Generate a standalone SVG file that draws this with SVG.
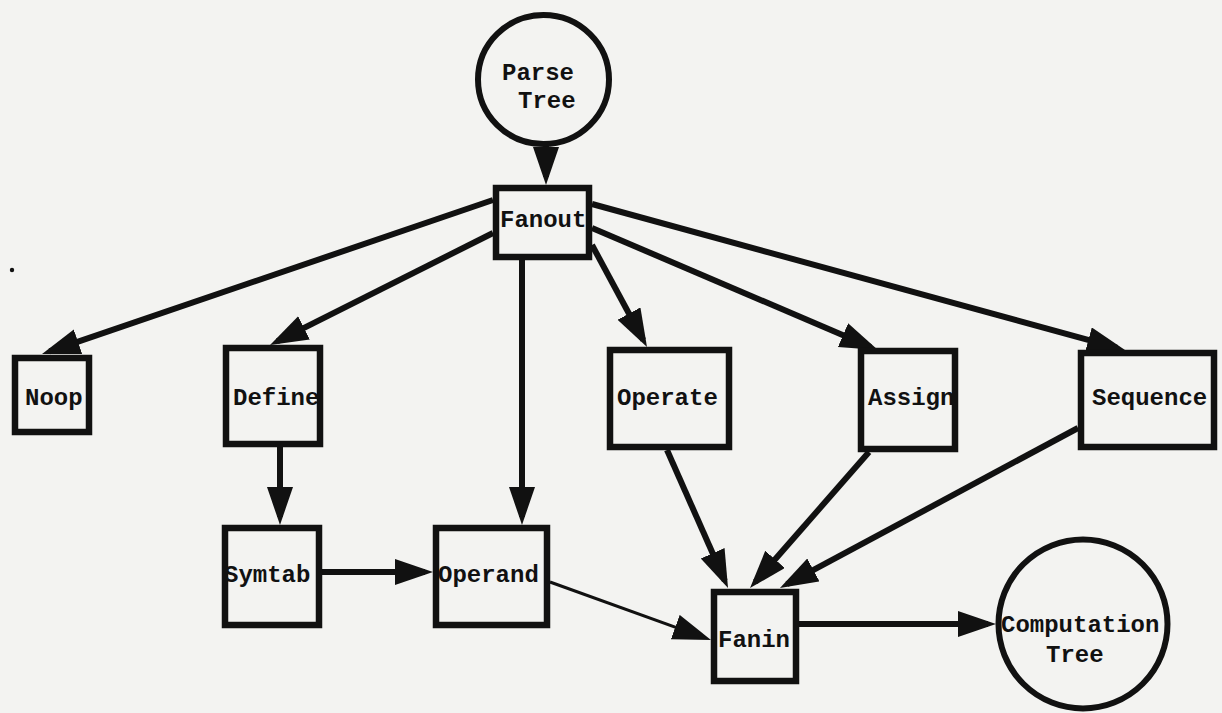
<svg xmlns="http://www.w3.org/2000/svg" width="1222" height="713" viewBox="0 0 1222 713">
<defs>
<style>
.bg{fill:#f3f3f1}
.box{fill:#f3f3f1;stroke:#111;stroke-width:6.5;stroke-linejoin:miter}
.circ{fill:#f3f3f1;stroke:#111;stroke-width:6}
.lbl{font-family:"Liberation Mono","Courier New",monospace;font-weight:bold;font-size:24px;fill:#111}
.edge{fill:none;stroke:#111;stroke-width:6;marker-end:url(#ah)}
.thin{fill:none;stroke:#111;stroke-width:3;marker-end:url(#ah)}
</style>
<marker id="ah" markerUnits="userSpaceOnUse" markerWidth="40" markerHeight="28" refX="30" refY="13" orient="auto">
<path d="M0,0 L38,13 L0,26 Z" fill="#111"/>
</marker>
</defs>
<rect class="bg" x="0" y="0" width="1222" height="713"/>
<circle cx="12" cy="270" r="2.2" fill="#111"/>
<g id="connectors">
<line class="edge" x1="546" y1="146" x2="546" y2="177"/>
<line class="edge" x1="493" y1="200" x2="49.6" y2="351.4"/>
<line class="edge" x1="493" y1="233" x2="277.2" y2="341.4"/>
<line class="edge" x1="522" y1="260" x2="522" y2="517"/>
<line class="edge" x1="592" y1="245" x2="643.2" y2="340"/>
<line class="edge" x1="592" y1="228" x2="870.6" y2="346.9"/>
<line class="edge" x1="592" y1="204" x2="1117.3" y2="347.9"/>
<line class="edge" x1="280" y1="447" x2="280" y2="517"/>
<line class="edge" x1="322" y1="572" x2="425" y2="572"/>
<line class="thin" x1="550" y1="582" x2="703.5" y2="637.3"/>
<line class="edge" x1="667" y1="450" x2="724.8" y2="580.7"/>
<line class="edge" x1="869" y1="452" x2="755.3" y2="582"/>
<line class="edge" x1="1078" y1="428" x2="787" y2="584.2"/>
<line class="edge" x1="799" y1="624" x2="988" y2="624"/>
</g>
<g id="parse-tree">
<ellipse class="circ" cx="543.5" cy="79.5" rx="65.5" ry="64.5"/>
<text class="lbl" x="502" y="80">Parse</text>
<text class="lbl" x="518" y="108">Tree</text>
</g>
<g id="fanout">
<rect class="box" x="496" y="188" width="93" height="69"/>
<text class="lbl" x="500" y="227">Fanout</text>
</g>
<g id="noop">
<rect class="box" x="15" y="358" width="74" height="74"/>
<text class="lbl" x="25" y="405">Noop</text>
</g>
<g id="define">
<rect class="box" x="226" y="348" width="94" height="96"/>
<text class="lbl" x="233" y="405">Define</text>
</g>
<g id="operate">
<rect class="box" x="610" y="350" width="119" height="97"/>
<text class="lbl" x="617" y="405">Operate</text>
</g>
<g id="assign">
<rect class="box" x="861" y="351" width="94" height="98"/>
<text class="lbl" x="868" y="405">Assign</text>
</g>
<g id="sequence">
<rect class="box" x="1081" y="353" width="133" height="94"/>
<text class="lbl" x="1092" y="405">Sequence</text>
</g>
<g id="symtab">
<rect class="box" x="225" y="528" width="94" height="97"/>
<text class="lbl" x="224" y="582">Symtab</text>
</g>
<g id="operand">
<rect class="box" x="436" y="528" width="111" height="97"/>
<text class="lbl" x="438" y="582">Operand</text>
</g>
<g id="fanin">
<rect class="box" x="714" y="592" width="82" height="89"/>
<text class="lbl" x="718" y="647">Fanin</text>
</g>
<g id="computation-tree">
<circle class="circ" cx="1083" cy="624" r="84.5"/>
<text class="lbl" x="1001" y="632">Computation</text>
<text class="lbl" x="1046" y="662">Tree</text>
</g>
</svg>
